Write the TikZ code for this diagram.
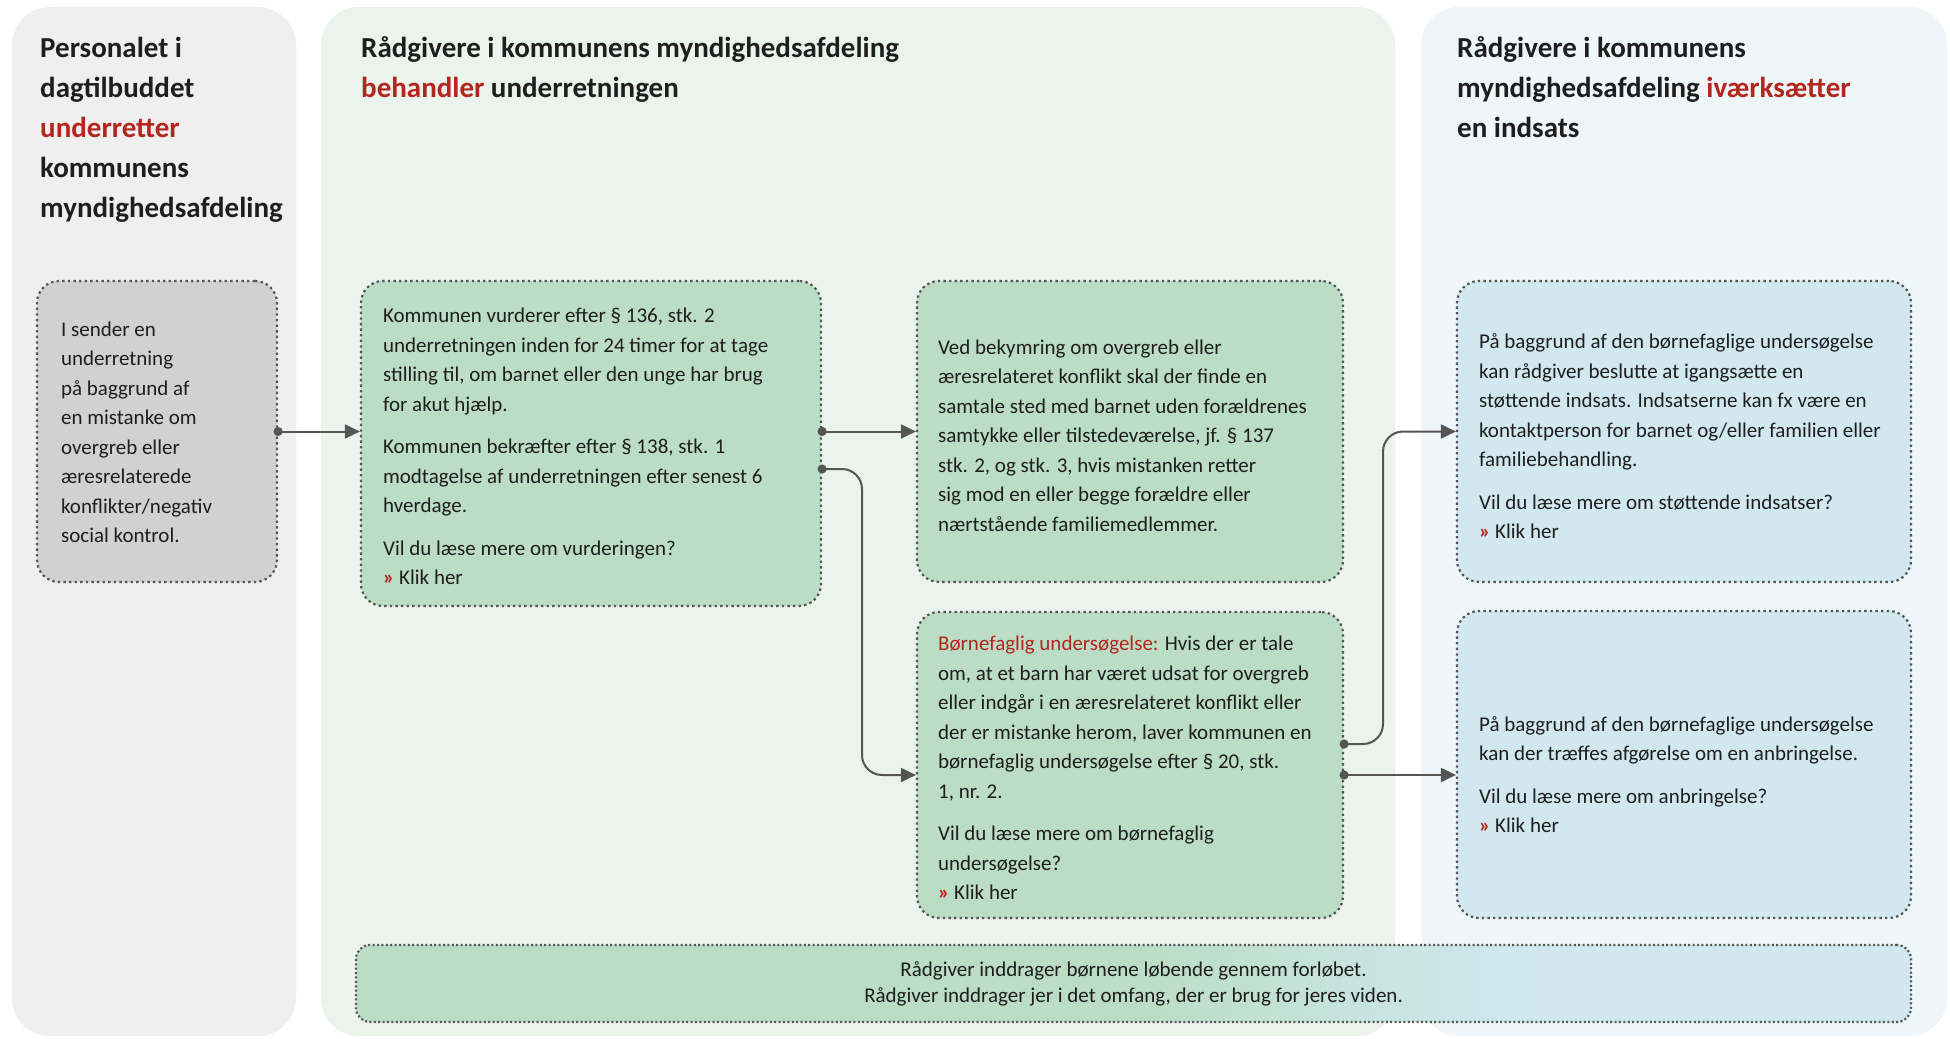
\documentclass[tikz,border=0pt]{standalone}
\usepackage{fontspec}
\setmainfont{Carlito}
\usetikzlibrary{arrows.meta,calc}
\definecolor{accent}{HTML}{B3261E}
\definecolor{colgrey}{HTML}{EFEFEF}
\definecolor{colgreen}{HTML}{EAF3EC}
\definecolor{colblue}{HTML}{EEF6F9}
\definecolor{boxgrey}{HTML}{D1D1D1}
\definecolor{boxgreen}{HTML}{BBDDC5}
\definecolor{boxblue}{HTML}{D1E8F1}
\definecolor{bordercol}{HTML}{555555}
\definecolor{txt}{HTML}{1E1E1E}
\pgfdeclarehorizontalshading{bottomshade}{100bp}{color(0bp)=(boxgreen); color(50bp)=(boxgreen); color(63bp)=(boxblue); color(100bp)=(boxblue)}
\newcommand\klikher{{\color{accent}\bfseries »}\ Klik her}
\begin{document}
\begin{tikzpicture}[x=1pt,y=-1pt,
  box/.style={draw=bordercol, line width=2.2pt, dash pattern=on 2.4pt off 3.2pt, rounded corners=22pt, inner sep=0pt},
  body/.style={inner sep=0pt, anchor=west, align=left, text=txt, font=\fontsize{21}{29.5}\selectfont},
  title/.style={inner sep=0pt, anchor=north west, align=left, text=txt, font=\bfseries\fontsize{29}{40}\selectfont},
  conn/.style={draw=bordercol, line width=2pt, rounded corners=20pt, shorten <=-4.5pt, arrows={Circle[length=9pt]-Triangle[length=15pt,width=14pt]}},
]
\fill[white] (0,0) rectangle (1950,1038);
\useasboundingbox (0,0) rectangle (1950,1038);
% column backgrounds
\fill[colgrey, rounded corners=38pt] (12,7) rectangle (296,1036);
\fill[colgreen, rounded corners=38pt] (321,7) rectangle (1395,1036);
\fill[colblue, rounded corners=38pt] (1421,7) rectangle (1947,1036);
% titles
\node[title] (h1) at (40,36.5) {Personalet i\\dagtilbuddet\\{\color{accent}underretter}\\kommunens\\myndighedsafdeling};
\node[title] (h2) at (361,36.5) {Rådgivere i kommunens myndighedsafdeling\\{\color{accent}behandler} underretningen};
\node[title] (h3) at (1457,36.5) {Rådgivere i kommunens\\myndighedsafdeling {\color{accent}iværksætter}\\en indsats};
% boxes
\node[box, fill=boxgrey, minimum width=240pt, minimum height=301pt] (b1) at (157,431.5) {};
\node[box, fill=boxgreen, minimum width=460pt, minimum height=325pt] (b2) at (591,443.5) {};
\node[box, fill=boxgreen, minimum width=426pt, minimum height=301pt] (b3) at (1130,431.5) {};
\node[box, fill=boxgreen, minimum width=426pt, minimum height=306pt] (b4) at (1130,765) {};
\node[box, fill=boxblue, minimum width=454pt, minimum height=301pt] (b5) at (1684,431.5) {};
\node[box, fill=boxblue, minimum width=454pt, minimum height=307pt] (b6) at (1684,764.5) {};
\node[box, shading=bottomshade, minimum width=1555pt, minimum height=77pt, dash pattern=on 2pt off 2.4pt, rounded corners=14pt] (b7) at (1133.5,983.5) {};
% texts
\node[body] (x1) at ($(b1.west)+(25,1)$) {I sender en\\underretning\\på baggrund af\\en mistanke om\\overgreb eller\\æresrelaterede\\konflikter/negativ\\social kontrol.};
\node[body] (x2) at ($(b2.west)+(23,3)$) {Kommunen vurderer efter § 136, stk. 2\\underretningen inden for 24 timer for at tage\\stilling til, om barnet eller den unge har brug\\for akut hjælp.\\[13pt]Kommunen bekræfter efter § 138, stk. 1\\modtagelse af underretningen efter senest 6\\hverdage.\\[13pt]Vil du læse mere om vurderingen?\\\klikher};
\node[body] (x3) at ($(b3.west)+(22,4)$) {Ved bekymring om overgreb eller\\æresrelateret konflikt skal der finde en\\samtale sted med barnet uden forældrenes\\samtykke eller tilstedeværelse, jf. § 137\\stk. 2, og stk. 3, hvis mistanken retter\\sig mod en eller begge forældre eller\\nærtstående familiemedlemmer.};
\node[body] (x4) at ($(b4.west)+(22,3)$) {{\color{accent}Børnefaglig undersøgelse:} Hvis der er tale\\om, at et barn har været udsat for overgreb\\eller indgår i en æresrelateret konflikt eller\\der er mistanke herom, laver kommunen en\\børnefaglig undersøgelse efter § 20, stk.\\1, nr. 2.\\[13pt]Vil du læse mere om børnefaglig\\undersøgelse?\\\klikher};
\node[body] (x5) at ($(b5.west)+(23,5)$) {På baggrund af den børnefaglige undersøgelse\\kan rådgiver beslutte at igangsætte en\\støttende indsats. Indsatserne kan fx være en\\kontaktperson for barnet og/eller familien eller\\familiebehandling.\\[13pt]Vil du læse mere om støttende indsatser?\\\klikher};
\node[body] (x6) at ($(b6.west)+(23,10)$) {På baggrund af den børnefaglige undersøgelse\\kan der træffes afgørelse om en anbringelse.\\[13pt]Vil du læse mere om anbringelse?\\\klikher};
\node[inner sep=0pt, align=center, text=txt, font=\fontsize{21}{26}\selectfont] (x7) at (b7.center) {Rådgiver inddrager børnene løbende gennem forløbet.\\Rådgiver inddrager jer i det omfang, der er brug for jeres viden.};
% connectors
\draw[conn] (b1.east) -- (b1.east -| b2.west);
\draw[conn] (b3.west -| b2.east) -- (b3.west);
\coordinate (s3) at ($(b2.east)+(0,25.5)$);
\coordinate (v3) at (862,0);
\coordinate (e4) at ($(b4.west)+(0,10)$);
\draw[conn] (s3) -- (s3 -| v3) -- (v3 |- e4) -- (e4);
\coordinate (s4) at ($(b4.east)+(0,-21)$);
\coordinate (v4) at (1383,0);
\draw[conn] (s4) -- (s4 -| v4) -- (v4 |- b5.west) -- (b5.west);
\coordinate (s5) at ($(b4.east)+(0,10)$);
\draw[conn] (s5) -- (s5 -| b6.west);
\end{tikzpicture}
\end{document}
